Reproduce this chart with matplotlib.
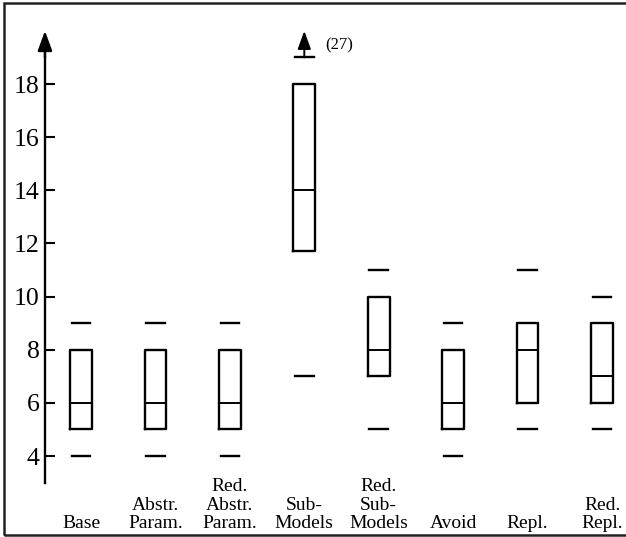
import matplotlib.pyplot as plt
import matplotlib.transforms as mtransforms
from matplotlib.patches import Rectangle

# ---- data ----
labels = ["Base", "Abstr.\nParam.", "Red.\nAbstr.\nParam.", "Sub-\nModels",
          "Red.\nSub-\nModels", "Avoid", "Repl.", "Red.\nRepl."]
whis_lo = [4, 4, 4, 7, 5, 4, 5, 5]
q1      = [5, 5, 5, 11.7, 7, 5, 6, 6]
median  = [6, 6, 6, 14, 8, 6, 8, 7]
q3      = [8, 8, 8, 18, 10, 8, 9, 9]
whis_hi = [9, 9, 9, 27, 11, 9, 11, 10]
y_ticks = [4, 6, 8, 10, 12, 14, 16, 18]

Y_CUT = 19      # values above this are shown as a clipped arrow
Y_TOP = 20
Y_BOT = 3

plt.rcParams['font.family'] = ['Liberation Serif', 'DejaVu Serif']

fig = plt.figure(figsize=(6.26, 5.37), dpi=100)
ax = fig.add_axes([0, 0, 1, 1])
ax.set_xlim(-1.088, 7.322)
ax.set_ylim(0.952, 21.162)
ax.patch.set_visible(False)

stats = []
for i in range(len(labels)):
    stats.append(dict(med=median[i], q1=q1[i], q3=q3[i],
                      whislo=whis_lo[i], whishi=min(whis_hi[i], Y_CUT)))

ax.bxp(stats, positions=range(len(labels)), widths=0.29, capwidths=0.25,
       showfliers=False, patch_artist=False,
       boxprops=dict(color="black", lw=1.7),
       medianprops=dict(color="black", lw=1.4),
       whiskerprops=dict(linestyle="none"),
       capprops=dict(color="black", lw=1.7))

# clipped outlier arrows
for i, v in enumerate(whis_hi):
    if v > Y_CUT:
        ax.annotate("", xy=(i, Y_TOP), xytext=(i, Y_CUT),
                    arrowprops=dict(arrowstyle="-|>,head_length=0.55,head_width=0.2",
                                    color="black", lw=1.4, mutation_scale=20,
                                    shrinkA=0, shrinkB=0))
        ax.text(i + 0.28, (Y_CUT + Y_TOP) / 2 - 0.03, f"({v})",
                fontsize=12, ha="left", va="center")

# y axis with arrow
for s in ["top", "right", "bottom"]:
    ax.spines[s].set_visible(False)
ax.spines["left"].set_position(("data", -0.484))
ax.spines["left"].set_bounds(Y_BOT, Y_TOP - 0.5)
ax.spines["left"].set_linewidth(1.7)
ax.set_yticks(y_ticks)
ax.tick_params(axis="y", direction="in", length=7, width=1.5, pad=4,
               labelsize=18.5)
ax.annotate("", xy=(-0.484, Y_TOP), xytext=(-0.484, Y_TOP - 1),
            arrowprops=dict(arrowstyle="-|>,head_length=0.6,head_width=0.22",
                            color="black", lw=1.7, mutation_scale=20,
                            shrinkA=0, shrinkB=0))

ax.set_xticks([])
trans = mtransforms.blended_transform_factory(ax.transData, ax.transAxes)
for i, lab in enumerate(labels):
    ax.text(i, 0.0168, lab, transform=trans, ha="center", va="baseline",
            multialignment="center", fontsize=14, linespacing=1.1)

# outer frame (open on the right)
fig.add_artist(Rectangle((4 / 626, 1 - 535 / 537), 1.0, (535 - 3) / 537,
                         transform=fig.transFigure, fill=False,
                         edgecolor="#222222", lw=1.8))

fig.savefig("out.png", dpi=100)
